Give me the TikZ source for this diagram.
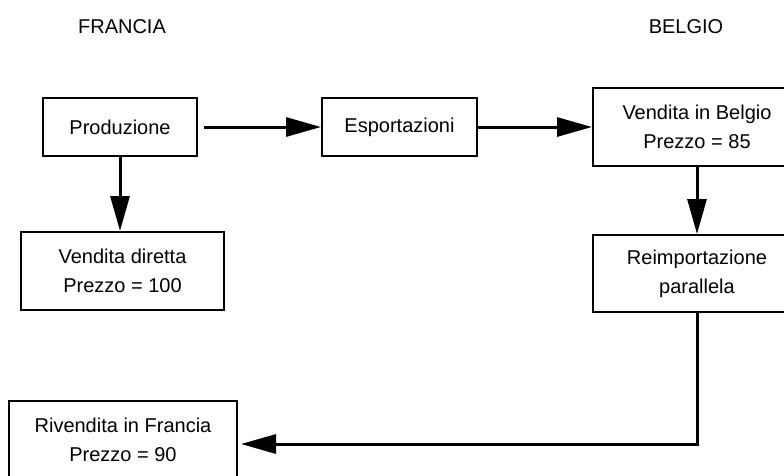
\documentclass[tikz,border=0pt]{standalone}
\usepackage{fontspec}
\setmainfont{Liberation Sans}
\usetikzlibrary{arrows.meta}
\begin{document}
\begin{tikzpicture}[x=1pt,y=-1pt,
  box/.style={draw,line width=2pt,rectangle,align=center,inner sep=0pt,
    font=\fontsize{20}{29}\selectfont},
  hdr/.style={inner sep=0pt,font=\fontsize{20}{24}\selectfont},
  arr/.style={line width=3pt,-{Triangle[length=35pt,width=19pt]}}]
\useasboundingbox (0,0) rectangle (784,475);
\clip (0,0) rectangle (784,475);
\fill[white] (0,0) rectangle (784,475);
\node[hdr] (fr) at (122,27) {FRANCIA};
\node[hdr] (be) at (686,27) {BELGIO};
\node[box,minimum width=154pt,minimum height=58pt] (prod) at (120,127) {Produzione};
\node[box,minimum width=155pt,minimum height=58pt] (esp) at (399.5,127) {Esportazioni};
\node[box,minimum width=208pt,minimum height=78pt] (belg) at (697,127) {Vendita in Belgio\\Prezzo = 85};
\node[box,minimum width=203pt,minimum height=78pt] (dir) at (122.5,271) {Vendita diretta\\Prezzo = 100};
\node[box,minimum width=208pt,minimum height=77pt] (reimp) at (697,273.5) {Reimportazione\\parallela};
\node[box,minimum width=228pt,minimum height=78pt] (riv) at (123,440) {Rivendita in Francia\\Prezzo = 90};
\draw[arr,shorten <=6pt] (prod.east) -- (esp.west);
\draw[arr] (esp.east) -- (belg.west);
\draw[arr] (prod.south) -- (prod.south |- dir.north);
\draw[arr] (belg.south) -- (reimp.north);
\draw[arr,shorten >=3pt] (reimp.south) |- ([yshift=-4pt]riv.east);
\end{tikzpicture}
\end{document}
